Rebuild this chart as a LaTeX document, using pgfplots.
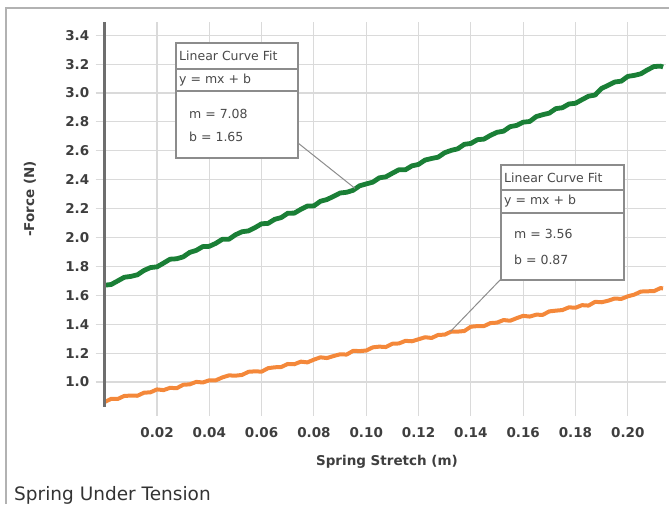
\documentclass[border=0pt]{standalone}
\usepackage{pgfplots}
\pgfplotsset{compat=1.18}
\usepackage{pgfplotstable}
\usepackage{fontspec}
\setmainfont{DejaVu Sans}
\definecolor{fitgreen}{HTML}{1A7F36}
\definecolor{fitorange}{HTML}{F4883A}
\definecolor{axgray}{HTML}{6E6E6E}
\definecolor{gridgray}{HTML}{DADADA}
\definecolor{txt}{HTML}{3E3E3E}
\definecolor{boxtxt}{HTML}{4A4A4A}
\definecolor{boxgray}{HTML}{8C8C8C}

\pgfplotstableread{
x y
0.0000 1.670
0.0025 1.675
0.0050 1.700
0.0075 1.725
0.0100 1.731
0.0125 1.742
0.0150 1.772
0.0175 1.792
0.0200 1.797
0.0225 1.823
0.0250 1.850
0.0275 1.853
0.0300 1.866
0.0325 1.897
0.0350 1.911
0.0375 1.937
0.0400 1.939
0.0425 1.960
0.0450 1.988
0.0475 1.988
0.0500 2.019
0.0525 2.040
0.0550 2.046
0.0575 2.069
0.0600 2.095
0.0625 2.098
0.0650 2.126
0.0675 2.138
0.0700 2.168
0.0725 2.169
0.0750 2.195
0.0775 2.218
0.0800 2.219
0.0825 2.251
0.0850 2.263
0.0875 2.285
0.0900 2.308
0.0925 2.313
0.0950 2.327
0.0975 2.358
0.1000 2.371
0.1025 2.383
0.1050 2.413
0.1075 2.420
0.1100 2.445
0.1125 2.469
0.1150 2.469
0.1175 2.496
0.1200 2.506
0.1225 2.536
0.1250 2.547
0.1275 2.556
0.1300 2.587
0.1325 2.603
0.1350 2.614
0.1375 2.645
0.1400 2.651
0.1425 2.677
0.1450 2.681
0.1475 2.707
0.1500 2.728
0.1525 2.736
0.1550 2.767
0.1575 2.776
0.1600 2.798
0.1625 2.803
0.1650 2.837
0.1675 2.850
0.1700 2.861
0.1725 2.892
0.1750 2.898
0.1775 2.924
0.1800 2.929
0.1825 2.954
0.1850 2.978
0.1875 2.986
0.1900 3.032
0.1925 3.053
0.1950 3.076
0.1975 3.082
0.2000 3.115
0.2025 3.122
0.2050 3.133
0.2075 3.160
0.2100 3.183
0.2125 3.186
0.2135 3.180
}\greendata

\pgfplotstableread{
x y
0.0000 0.862
0.0025 0.884
0.0050 0.883
0.0075 0.904
0.0100 0.906
0.0125 0.905
0.0150 0.926
0.0175 0.929
0.0200 0.949
0.0225 0.944
0.0250 0.960
0.0275 0.957
0.0300 0.981
0.0325 0.984
0.0350 1.001
0.0375 0.997
0.0400 1.012
0.0425 1.012
0.0450 1.032
0.0475 1.046
0.0500 1.044
0.0525 1.049
0.0550 1.071
0.0575 1.074
0.0600 1.072
0.0625 1.096
0.0650 1.102
0.0675 1.104
0.0700 1.125
0.0725 1.123
0.0750 1.141
0.0775 1.136
0.0800 1.155
0.0825 1.171
0.0850 1.166
0.0875 1.180
0.0900 1.192
0.0925 1.190
0.0950 1.216
0.0975 1.214
0.1000 1.218
0.1025 1.240
0.1050 1.245
0.1075 1.242
0.1100 1.265
0.1125 1.267
0.1150 1.285
0.1175 1.282
0.1200 1.296
0.1225 1.310
0.1250 1.305
0.1275 1.326
0.1300 1.328
0.1325 1.349
0.1350 1.349
0.1375 1.353
0.1400 1.383
0.1425 1.387
0.1450 1.387
0.1475 1.408
0.1500 1.411
0.1525 1.429
0.1550 1.424
0.1575 1.442
0.1600 1.458
0.1625 1.453
0.1650 1.466
0.1675 1.465
0.1700 1.489
0.1725 1.494
0.1750 1.498
0.1775 1.517
0.1800 1.514
0.1825 1.532
0.1850 1.529
0.1875 1.555
0.1900 1.552
0.1925 1.563
0.1950 1.578
0.1975 1.575
0.2000 1.593
0.2025 1.605
0.2050 1.626
0.2075 1.628
0.2100 1.629
0.2125 1.650
0.2135 1.648
}\orangedata

\begin{document}
\begin{tikzpicture}[x=1pt,y=1pt]
\path[use as bounding box] (0,0) rectangle (669,504);
\draw[gray!60, line width=1.2pt] (6,0) -- (6,496) -- (669,496);
\begin{axis}[
  at={(104.7pt,97.4pt)}, anchor=south west, scale only axis,
  width=561pt, height=384.4pt,
  xmin=0, xmax=0.2145, ymin=0.83, ymax=3.49,
  axis line style={draw=none},
  xtick={0.02,0.04,0.06,0.08,0.10,0.12,0.14,0.16,0.18,0.20},
  ytick={1.0,1.2,1.4,1.6,1.8,2.0,2.2,2.4,2.6,2.8,3.0,3.2,3.4},
  xtick pos=bottom, ytick pos=left, tick align=outside,
  major tick length=9pt,
  tick style={gridgray, line width=1.1pt},
  grid=major, grid style={gridgray, line width=1.1pt},
  /pgf/number format/assume math mode=true,
  ticklabel style={font=\bfseries\fontsize{13.5}{15}\selectfont, text=txt},
  xticklabel style={yshift=-8pt, /pgf/number format/.cd, fixed, fixed zerofill, precision=2},
  yticklabel style={xshift=-3pt, /pgf/number format/.cd, fixed, fixed zerofill, precision=1},
  clip=false,
]
\addplot[fitgreen, line width=4.8pt, line join=round] table[x=x,y=y] {\greendata};
\addplot[fitorange, line width=4pt, line join=round] table[x=x,y=y] {\orangedata};
\draw[axgray, line width=3pt] (rel axis cs:0,0) -- (rel axis cs:0,1);
\coordinate (g1) at (axis cs:0.0957,2.34);
\coordinate (o1) at (axis cs:0.1322,1.35);
\end{axis}
% connectors
\draw[boxgray, line width=1pt] (298,361) -- (g1);
\draw[boxgray, line width=1pt] (501,225) -- (o1);
% box 1
\filldraw[fill=white, draw=boxgray, line width=1.6pt] (176,346) rectangle (298,461);
\draw[boxgray, line width=1.2pt] (176,435) -- (298,435);
\draw[boxgray, line width=1.2pt] (176,413) -- (298,413);
\node[anchor=west, inner sep=0pt, text=boxtxt, font=\fontsize{12.5}{14}\selectfont] at (179,448) {Linear Curve Fit};
\node[anchor=west, inner sep=0pt, text=boxtxt, font=\fontsize{12.5}{14}\selectfont] at (179,424) {y = mx + b};
\node[anchor=west, inner sep=0pt, text=boxtxt, font=\fontsize{12.5}{14}\selectfont] at (189,390) {m = 7.08};
\node[anchor=west, inner sep=0pt, text=boxtxt, font=\fontsize{12.5}{14}\selectfont] at (189,367) {b = 1.65};
% box 2
\filldraw[fill=white, draw=boxgray, line width=1.6pt] (501,224) rectangle (624,339);
\draw[boxgray, line width=1.2pt] (501,314) -- (624,314);
\draw[boxgray, line width=1.2pt] (501,291) -- (624,291);
\node[anchor=west, inner sep=0pt, text=boxtxt, font=\fontsize{12.5}{14}\selectfont] at (504,326.5) {Linear Curve Fit};
\node[anchor=west, inner sep=0pt, text=boxtxt, font=\fontsize{12.5}{14}\selectfont] at (504,303) {y = mx + b};
\node[anchor=west, inner sep=0pt, text=boxtxt, font=\fontsize{12.5}{14}\selectfont] at (514,270) {m = 3.56};
\node[anchor=west, inner sep=0pt, text=boxtxt, font=\fontsize{12.5}{14}\selectfont] at (514,244) {b = 0.87};
% labels
\node[text=txt, font=\bfseries\fontsize{13.5}{15}\selectfont] at (387,42) {Spring Stretch (m)};
\node[text=txt, font=\bfseries\fontsize{13.5}{15}\selectfont, rotate=90] at (30,305) {-Force (N)};
\node[anchor=west, inner sep=0pt, text=black!80, font=\fontsize{18.5}{21}\selectfont] at (14,9) {Spring Under Tension};
\end{tikzpicture}
\end{document}
